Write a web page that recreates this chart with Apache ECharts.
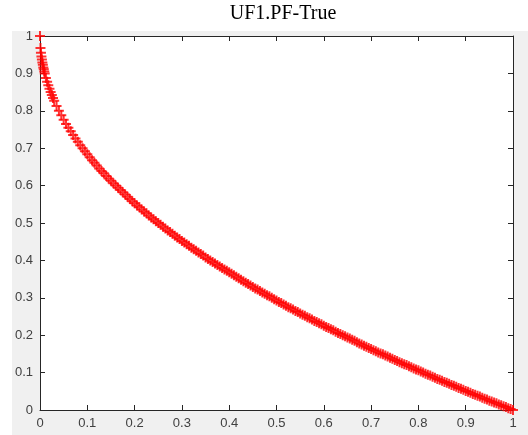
<!DOCTYPE html>
<html>
<head>
<meta charset="utf-8">
<script src="https://cdn.jsdelivr.net/npm/echarts@6/dist/echarts.min.js"></script>
<style>
    html, body { margin: 0; padding: 0; background: #fff; }
    #figBg { position: absolute; left: 12px; top: 31px; width: 516px; height: 404px; background: #f0f0f0; }
    #main { position: absolute; left: 0; top: 0; width: 528px; height: 435px; }
</style>
</head>
<body>
<div id="figBg"></div>
<div id="main"></div>
<script>
// Pareto front points (f1, f2)
var xs = [
    0, 0.001, 0.002, 0.003, 0.004, 0.005, 0.006, 0.007, 0.008, 0.009,
    0.01, 0.0125, 0.015, 0.0175, 0.02, 0.0225, 0.025, 0.0275, 0.03, 0.035,
    0.04, 0.045, 0.05, 0.055, 0.06, 0.065, 0.07, 0.075, 0.08, 0.085,
    0.09, 0.095, 0.1, 0.105, 0.11, 0.115, 0.12, 0.125, 0.13, 0.135,
    0.14, 0.145, 0.15, 0.155, 0.16, 0.165, 0.17, 0.175, 0.18, 0.185,
    0.19, 0.195, 0.2, 0.205, 0.21, 0.215, 0.22, 0.225, 0.23, 0.235,
    0.24, 0.245, 0.25, 0.255, 0.26, 0.265, 0.27, 0.275, 0.28, 0.285,
    0.29, 0.295, 0.3, 0.305, 0.31, 0.315, 0.32, 0.325, 0.33, 0.335,
    0.34, 0.345, 0.35, 0.355, 0.36, 0.365, 0.37, 0.375, 0.38, 0.385,
    0.39, 0.395, 0.4, 0.405, 0.41, 0.415, 0.42, 0.425, 0.43, 0.435,
    0.44, 0.445, 0.45, 0.455, 0.46, 0.465, 0.47, 0.475, 0.48, 0.485,
    0.49, 0.495, 0.5, 0.505, 0.51, 0.515, 0.52, 0.525, 0.53, 0.535,
    0.54, 0.545, 0.55, 0.555, 0.56, 0.565, 0.57, 0.575, 0.58, 0.585,
    0.59, 0.595, 0.6, 0.605, 0.61, 0.615, 0.62, 0.625, 0.63, 0.635,
    0.64, 0.645, 0.65, 0.655, 0.66, 0.665, 0.67, 0.675, 0.68, 0.685,
    0.69, 0.695, 0.7, 0.705, 0.71, 0.715, 0.72, 0.725, 0.73, 0.735,
    0.74, 0.745, 0.75, 0.755, 0.76, 0.765, 0.77, 0.775, 0.78, 0.785,
    0.79, 0.795, 0.8, 0.805, 0.81, 0.815, 0.82, 0.825, 0.83, 0.835,
    0.84, 0.845, 0.85, 0.855, 0.86, 0.865, 0.87, 0.875, 0.88, 0.885,
    0.89, 0.895, 0.9, 0.905, 0.91, 0.915, 0.92, 0.925, 0.93, 0.935,
    0.94, 0.945, 0.95, 0.955, 0.96, 0.965, 0.97, 0.975, 0.98, 0.985,
    0.99, 0.995, 1
];
var ys = [
    1, 0.968, 0.955, 0.945, 0.937, 0.929, 0.923, 0.916, 0.911, 0.905,
    0.9, 0.888, 0.878, 0.868, 0.859, 0.85, 0.842, 0.834, 0.827, 0.813,
    0.8, 0.788, 0.776, 0.765, 0.755, 0.745, 0.735, 0.726, 0.717, 0.708,
    0.7, 0.692, 0.684, 0.676, 0.668, 0.661, 0.654, 0.646, 0.639, 0.633,
    0.626, 0.619, 0.613, 0.606, 0.6, 0.594, 0.588, 0.582, 0.576, 0.57,
    0.564, 0.558, 0.553, 0.547, 0.542, 0.536, 0.531, 0.526, 0.52, 0.515,
    0.51, 0.505, 0.5, 0.495, 0.49, 0.485, 0.48, 0.476, 0.471, 0.466,
    0.461, 0.457, 0.452, 0.448, 0.443, 0.439, 0.434, 0.43, 0.426, 0.421,
    0.417, 0.413, 0.408, 0.404, 0.4, 0.396, 0.392, 0.388, 0.384, 0.38,
    0.376, 0.372, 0.368, 0.364, 0.36, 0.356, 0.352, 0.348, 0.344, 0.34,
    0.337, 0.333, 0.329, 0.325, 0.322, 0.318, 0.314, 0.311, 0.307, 0.304,
    0.3, 0.296, 0.293, 0.289, 0.286, 0.282, 0.279, 0.275, 0.272, 0.269,
    0.265, 0.262, 0.258, 0.255, 0.252, 0.248, 0.245, 0.242, 0.238, 0.235,
    0.232, 0.229, 0.225, 0.222, 0.219, 0.216, 0.213, 0.209, 0.206, 0.203,
    0.2, 0.197, 0.194, 0.191, 0.188, 0.185, 0.181, 0.178, 0.175, 0.172,
    0.169, 0.166, 0.163, 0.16, 0.157, 0.154, 0.151, 0.149, 0.146, 0.143,
    0.14, 0.137, 0.134, 0.131, 0.128, 0.125, 0.122, 0.12, 0.117, 0.114,
    0.111, 0.108, 0.106, 0.103, 0.1, 0.097, 0.094, 0.092, 0.089, 0.086,
    0.083, 0.081, 0.078, 0.075, 0.073, 0.07, 0.067, 0.065, 0.062, 0.059,
    0.057, 0.054, 0.051, 0.049, 0.046, 0.043, 0.041, 0.038, 0.036, 0.033,
    0.03, 0.028, 0.025, 0.023, 0.02, 0.018, 0.015, 0.013, 0.01, 0.008,
    0.005, 0.003, 0
];
var titleText = 'UF1.PF-True';

var points = xs.map(function (x, i) {
    return [x, ys[i]];
});

var axisColor = '#262626';
// '+' marker like matlab
var plusSymbol = 'path://M4,0h2v4h4v2h-4v4h-2v-4h-4v-2h4z';

function valueAxis(pos, showLabel) {
    return {
        type: 'value',
        position: pos,
        min: 0,
        max: 1,
        interval: 0.1,
        splitLine: {show: false},
        axisLine: {show: true, onZero: false, lineStyle: {color: axisColor, width: 1}},
        axisTick: {show: true, inside: true, length: 5, lineStyle: {color: axisColor}},
        axisLabel: {
            show: showLabel,
            color: '#404040',
            fontFamily: 'Liberation Sans, Arial, sans-serif',
            fontSize: 13,
            margin: 7,
            formatter: function (v) {
                return String(Math.round(v * 10) / 10);
            }
        }
    };
}

var myChart = echarts.init(document.getElementById('main'));
myChart.setOption({
    animation: false,
    backgroundColor: 'transparent',
    title: {
        text: titleText,
        left: 283,
        top: 4,
        padding: 0,
        textAlign: 'center',
        textStyle: {
            fontFamily: 'Liberation Serif, Times New Roman, serif',
            fontWeight: 'normal',
            fontSize: 20,
            color: '#000'
        }
    },
    grid: {
        left: 40,
        right: 15,
        top: 36,
        bottom: 25,
        show: true,
        backgroundColor: '#fff',
        borderWidth: 0,
        containLabel: false
    },
    xAxis: [valueAxis('bottom', true), valueAxis('top', false)],
    yAxis: [valueAxis('left', true), valueAxis('right', false)],
    series: [
        {
            type: 'scatter',
            data: points,
            symbol: plusSymbol,
            symbolSize: 10,
            clip: false,
            itemStyle: {color: '#ff0000'}
        }
    ]
});
</script>
</body>
</html>
